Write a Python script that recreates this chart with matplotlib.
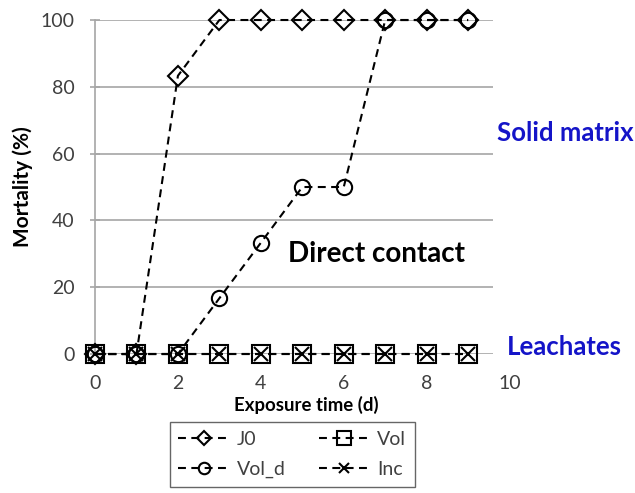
import matplotlib.pyplot as plt

plt.rcParams["font.family"] = ["Lato", "DejaVu Sans"]

# exposure days and mortality (%) per treatment
days = [0, 1, 2, 3, 4, 5, 6, 7, 8, 9]
j0 = [0, 0, 83.3, 100, 100, 100, 100, 100, 100, 100]
vol = [0, 0, 0, 0, 0, 0, 0, 0, 0, 0]
vol_d = [0, 0, 0, 16.7, 33.3, 50, 50, 100, 100, 100]
inc = [0, 0, 0, 0, 0, 0, 0, 0, 0, 0]

x_ticks = [0, 2, 4, 6, 8]
y_ticks = [0, 20, 40, 60, 80, 100]

fig = plt.figure(figsize=(6.35, 4.93), dpi=100)
ax = fig.add_axes([0.1496, 0.2819, 0.6268, 0.6775])

dash = (0, (3.8, 2.6))
series = [
    ("J0", j0, "D", 10),
    ("Vol", vol, "s", 12.5),
    ("Vol_d", vol_d, "o", 11),
    ("Inc", inc, "x", 10),
]

lines = {}
for label, values, marker, size in series:
    (ln,) = ax.plot(days, values, color="black", linewidth=1.5, linestyle=dash,
                    marker=marker, markersize=size, markerfacecolor="none",
                    markeredgecolor="black", markeredgewidth=1.5,
                    clip_on=False, zorder=3, label=label)
    lines[label] = ln

ax.set_xlim(0, 9.6)
ax.set_ylim(0, 100)
ax.set_xticks(x_ticks)
ax.set_yticks(y_ticks)
ax.grid(axis="y", color="#a6a6a6", linewidth=1.2)
ax.set_axisbelow(True)
for side in ["top", "right", "bottom"]:
    ax.spines[side].set_visible(False)
ax.spines["left"].set_color("#a6a6a6")
ax.spines["left"].set_linewidth(1.2)
ax.tick_params(axis="y", direction="inout", length=7, color="#a6a6a6",
               width=1.2, pad=11, labelsize=14, labelcolor="#404040")
ax.tick_params(axis="x", length=0, pad=15, labelsize=14, labelcolor="#404040")
# last x label sits past the end of the plot area
ax.annotate("10", xy=(10, 0), xycoords=("data", "axes fraction"),
            xytext=(0, -15), textcoords="offset points",
            ha="center", va="top", fontsize=14, color="#404040",
            annotation_clip=False)

ax.set_xlabel("Exposure time (d)", fontsize=13.4, fontweight="bold")
ax.xaxis.set_label_coords(0.53, -0.125)
ax.set_ylabel("Mortality (%)", fontsize=15, fontweight="bold")
ax.yaxis.set_label_coords(-0.155, 0.5)

ax.text(6.8, 30, "Direct contact", fontsize=20, fontweight="bold",
        color="black", ha="center", va="center")
fig.text(0.89, 0.73, "Solid matrix", fontsize=18.5, fontweight="bold",
         color="#1414c8", ha="center", va="center")
fig.text(0.888, 0.296, "Leachates", fontsize=18.5, fontweight="bold",
         color="#1414c8", ha="center", va="center")

legend_order = [lines["J0"], lines["Vol_d"], lines["Vol"], lines["Inc"]]
leg = fig.legend(handles=legend_order, ncol=2, loc="center",
                 bbox_to_anchor=(0.46, 0.078), fontsize=14,
                 frameon=True, fancybox=False, edgecolor="#404040",
                 handlelength=2.6, handletextpad=0.4, columnspacing=1.7,
                 borderpad=0.45, labelspacing=0.7, markerscale=0.75)
leg.get_frame().set_linewidth(1.0)
for t in leg.get_texts():
    t.set_color("#404040")

fig.savefig("out.png", dpi=100)
